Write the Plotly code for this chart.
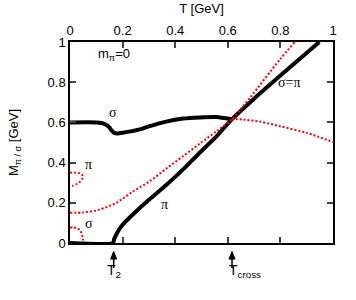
import plotly.graph_objects as go

# Black solid curves (GeV)
sigma_T = [0.0, 0.1, 0.12, 0.135, 0.148, 0.158, 0.168, 0.18, 0.2, 0.265, 0.3, 0.366, 0.43, 0.493, 0.557, 0.614]
sigma_M = [0.6, 0.6, 0.597, 0.59, 0.578, 0.56, 0.548, 0.545, 0.548, 0.565, 0.58, 0.604, 0.619, 0.625, 0.627, 0.616]

pi_T = [0.0, 0.163, 0.168, 0.175, 0.189, 0.21, 0.239, 0.3, 0.366, 0.43, 0.493, 0.557, 0.614, 0.7, 0.8, 0.948]
pi_M = [0.0, 0.0, 0.02, 0.04, 0.072, 0.105, 0.142, 0.215, 0.288, 0.366, 0.449, 0.53, 0.614, 0.718, 0.833, 1.0]

# Red dotted curves
red_pi_small_T = [0.0, 0.02, 0.035, 0.045, 0.049, 0.046, 0.038, 0.025, 0.01, 0.0]
red_pi_small_M = [0.35, 0.35, 0.348, 0.342, 0.33, 0.318, 0.305, 0.293, 0.285, 0.283]

red_sig_small_T = [0.0, 0.015, 0.03, 0.04, 0.046, 0.049, 0.05]
red_sig_small_M = [0.077, 0.077, 0.072, 0.06, 0.04, 0.02, 0.0]

red_long_T = [0.0, 0.05, 0.112, 0.176, 0.239, 0.303, 0.366, 0.43, 0.493, 0.557, 0.614, 0.684, 0.798, 0.855]
red_long_M = [0.15, 0.152, 0.166, 0.2, 0.256, 0.307, 0.37, 0.432, 0.494, 0.556, 0.614, 0.722, 0.913, 1.0]

red_sig_high_T = [0.614, 0.66, 0.722, 0.798, 0.9, 1.0]
red_sig_high_M = [0.617, 0.614, 0.604, 0.581, 0.548, 0.502]

T2 = 0.166
Tcross = 0.616

fig = go.Figure()
blk = dict(color="black", width=4, shape="spline", smoothing=0.6)
red = dict(color="#ff0000", width=2, dash="2px,2px", shape="spline", smoothing=0.8)
fig.add_trace(go.Scatter(x=sigma_T, y=sigma_M, mode="lines", line=blk, hoverinfo="skip"))
fig.add_trace(go.Scatter(x=pi_T, y=pi_M, mode="lines", line=blk, hoverinfo="skip"))
for xs, ys in [(red_pi_small_T, red_pi_small_M), (red_sig_small_T, red_sig_small_M),
               (red_long_T, red_long_M), (red_sig_high_T, red_sig_high_M)]:
    fig.add_trace(go.Scatter(x=xs, y=ys, mode="lines", line=red, hoverinfo="skip"))

axis_common = dict(range=[0, 1], dtick=0.2, tick0=0, ticks="inside", ticklen=6, tickwidth=1.5,
                   mirror="allticks", showline=True, linewidth=1.5, linecolor="black",
                   showgrid=False, zeroline=False, tickfont=dict(size=13), automargin=False)
fig.update_xaxes(side="top", title=dict(text="T [GeV]", standoff=6, font=dict(size=13)), **axis_common)
fig.update_yaxes(title=dict(text="M<sub>π / σ</sub> [GeV]", standoff=26, font=dict(size=13)), **axis_common)

serif = dict(family="Liberation Serif, Times New Roman, serif", size=14, color="black")
anns = [
    dict(x=0.097, y=0.94, text="m<sub>π</sub>=0", xanchor="left", font=dict(size=13)),
    dict(x=0.163, y=0.65, text="σ", font=serif),
    dict(x=0.072, y=0.39, text="π", font=serif),
    dict(x=0.072, y=0.095, text="σ", font=serif),
    dict(x=0.36, y=0.19, text="π", font=serif),
    dict(x=0.836, y=0.797, text="σ=π", font=serif),
]
for a in anns:
    fig.add_annotation(showarrow=False, xref="x", yref="y", **a)

# arrows below the axis (shapes: shaft + head)
hw = 3.0 / 262.5
for tx in [T2, Tcross]:
    fig.add_shape(type="line", xref="x", yref="paper", x0=tx, x1=tx, y0=-0.07, y1=-0.125,
                  line=dict(color="black", width=1.5))
    fig.add_shape(type="path", xref="x", yref="paper",
                  path=f"M {tx-hw},-0.08 L {tx},-0.042 L {tx+hw},-0.08 Z",
                  fillcolor="black", line=dict(color="black", width=1))
fig.add_annotation(x=T2, y=-0.195, xref="x", yref="paper", text="T<sub>2</sub>",
                   showarrow=False, font=dict(size=14))
fig.add_annotation(x=0.596, y=-0.195, xref="x", yref="paper", text="T<sub>cross</sub>",
                   xanchor="left", showarrow=False, font=dict(size=14))

fig.update_layout(width=356, height=300, margin=dict(l=70, r=23, t=42, b=57),
                  plot_bgcolor="white", paper_bgcolor="white", showlegend=False,
                  hovermode=False,
                  font=dict(family="Liberation Sans, Arial, sans-serif", size=13, color="black"))
# remove the browser's default 8px body margin so the figure sits at the window origin
fig.write_html("out.html", config={"displayModeBar": False},
               post_script="document.body.style.margin='0';")
